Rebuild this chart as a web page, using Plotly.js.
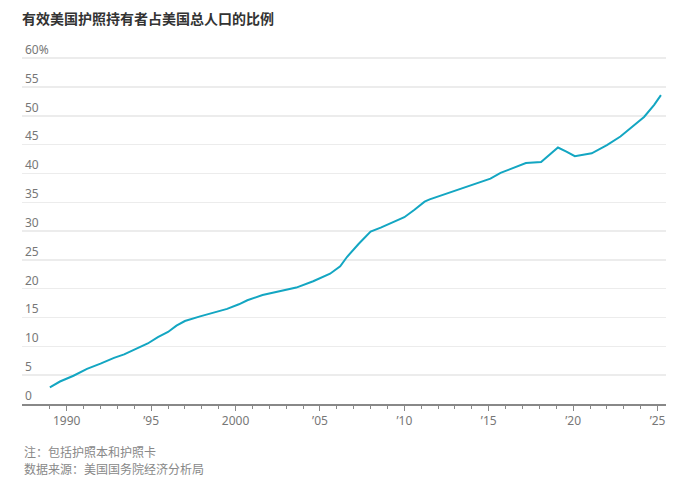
<!DOCTYPE html>
<html>
<head>
<meta charset="utf-8">
<script src="https://cdn.plot.ly/plotly-3.0.1.min.js"></script>
<style>
  html, body { margin: 0; padding: 0; background: #fff; }
  #chart { width: 690px; height: 484px; }
</style>
</head>
<body>
<div id="chart"></div>
<script>
// share of US population holding a valid passport, %
var years = [1989.0, 1989.6, 1990.4, 1991.2, 1992.0, 1992.8, 1993.4, 1994.2, 1994.8, 1995.4,
  1996.0, 1996.5, 1997.0, 1997.9, 1998.7, 1999.5, 2000.2, 2000.7, 2001.6, 2002.6,
  2003.6, 2004.6, 2005.6, 2006.2, 2006.6, 2007.3, 2007.6, 2008.0, 2008.6, 2009.4,
  2010.0, 2010.6, 2011.2, 2011.5, 2012.3, 2012.9, 2013.7, 2014.5, 2015.1, 2015.7,
  2016.3, 2017.2, 2018.1, 2018.6, 2019.1, 2019.6, 2020.1, 2021.1, 2022.0, 2022.8,
  2023.4, 2024.2, 2024.8, 2025.2];
var share = [2.9, 3.9, 4.9, 6.1, 7.0, 8.0, 8.6, 9.7, 10.5, 11.6,
  12.5, 13.6, 14.4, 15.2, 15.9, 16.5, 17.3, 18.0, 18.9, 19.5,
  20.2, 21.3, 22.6, 23.9, 25.5, 27.8, 28.7, 29.9, 30.6, 31.7,
  32.4, 33.7, 35.1, 35.5, 36.3, 36.9, 37.7, 38.4, 39.1, 40.1,
  40.8, 41.8, 42.0, 43.2, 44.5, 43.8, 43.0, 43.5, 44.9, 46.4,
  47.9, 49.8, 51.9, 53.6];

var xTicks = [1990, 1995, 2000, 2005, 2010, 2015, 2020, 2025];
var xLabels = ['1990', '\u201995', '2000', '\u201905', '\u201910', '\u201915', '\u201920', '\u201925'];
var yTicks = [0, 5, 10, 15, 20, 25, 30, 35, 40, 45, 50, 55, 60];
var yLabels = ['0', '5', '10', '15', '20', '25', '30', '35', '40', '45', '50', '55', '60%'];

var font = '"Noto Sans CJK SC", "Noto Sans", sans-serif';
var numFont = '"Noto Sans", "DejaVu Sans", sans-serif';

// 0 sits at y=404.5px, 60 at 58.5px; a little headroom keeps the top label visible
var yMax = 63.5;
var pxPerUnit = (404.5 - 58.5) / 60;
var topMargin = 404.5 - yMax * pxPerUnit;

var trace = {
  x: years,
  y: share,
  type: 'scatter',
  mode: 'lines',
  line: {color: '#13a6c2', width: 2},
  hoverinfo: 'skip'
};

var layout = {
  width: 690,
  height: 484,
  margin: {l: 22, r: 24, t: topMargin, b: 79.5},
  paper_bgcolor: '#fff',
  plot_bgcolor: '#fff',
  showlegend: false,
  font: {family: font, color: '#777', size: 12},
  title: {
    text: '<b>有效美国护照持有者占美国总人口的比例</b>',
    x: 0, xref: 'paper', xanchor: 'left',
    y: 24, yref: 'container', yanchor: 'middle',
    font: {family: font, size: 14, color: '#333'}
  },
  xaxis: {
    range: [1987.35, 2025.5],
    tickmode: 'array',
    tickvals: xTicks,
    ticktext: xLabels,
    ticks: 'outside',
    ticklen: 5,
    tickwidth: 1,
    tickcolor: '#888',
    minor: {tick0: 1988, dtick: 1, ticks: 'outside', ticklen: 3, tickcolor: '#888', showgrid: false},
    showgrid: false,
    zeroline: false,
    showline: true,
    linecolor: '#888',
    linewidth: 2,
    tickfont: {family: numFont, size: 12, color: '#777'},
    fixedrange: true
  },
  yaxis: {
    range: [0, yMax],
    tickmode: 'array',
    tickvals: yTicks,
    ticktext: yLabels,
    ticklabelposition: 'inside top',
    ticks: '',
    showgrid: true,
    gridcolor: '#ececec',
    gridwidth: 1.5,
    zeroline: false,
    showline: false,
    tickfont: {family: numFont, size: 12, color: '#777'},
    fixedrange: true
  },
  annotations: [
    {text: '注：包括护照本和护照卡', x: 22, y: 452},
    {text: '数据来源：美国国务院经济分析局', x: 22, y: 469}
  ]
};

// footer notes given in pixels, converted to paper coordinates
var plotH = 484 - topMargin - 79.5;
var plotW = 690 - 22 - 24;
layout.annotations.forEach(function (a) {
  a.x = (a.x - 22) / plotW;
  a.y = (484 - 79.5 - a.y) / plotH;
  a.xref = 'paper';
  a.yref = 'paper';
  a.showarrow = false;
  a.xanchor = 'left';
  a.yanchor = 'middle';
  a.font = {family: font, size: 12, color: '#888'};
});

Plotly.newPlot('chart', [trace], layout, {displayModeBar: false, staticPlot: true});
</script>
</body>
</html>
